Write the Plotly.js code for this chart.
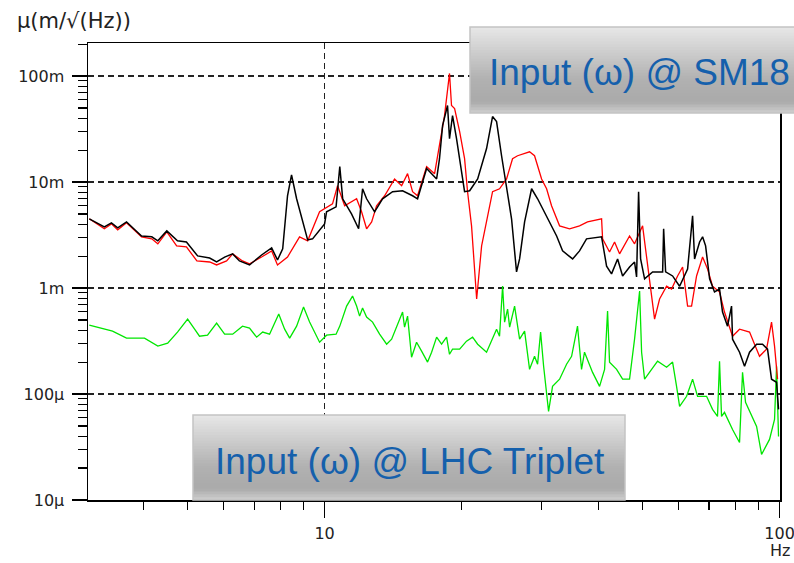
<!DOCTYPE html>
<html>
<head>
<meta charset="utf-8">
<script src="https://cdn.plot.ly/plotly-3.0.1.min.js"></script>
<style>html,body{margin:0;padding:0;background:#fff;}#chart{width:794px;height:563px;}</style>
</head>
<body>
<div id="chart"></div>
<script>
// Frequency (Hz) and amplitude (m/sqrt(Hz))
const blackFreq = [3.04,3.28,3.40,3.51,3.67,3.96,4.17,4.30,4.50,4.75,4.97,5.26,5.59,5.79,6.03,6.28,6.50,6.84,7.27,7.65,7.88,8.09,8.29,8.46,8.68,9.18,9.41,10.0,10.1,10.6,10.8,10.96,11.46,11.88,12.12,12.37,12.88,13.41,14.11,14.84,15.61,16.01,16.76,17.63,17.89,18.17,18.63,18.82,19.11,19.50,20.31,20.84,21.70,22.70,23.40,23.88,24.49,25.12,25.76,26.42,26.83,27.52,28.51,29.39,30.76,32.36,33.35,35.09,36.34,37.65,40.63,41.67,42.73,44.06,45.19,46.81,48.01,48.50,49.00,49.50,50.51,52.60,55.34,55.62,56.18,58.20,60.30,62.79,64.40,65.05,66.72,67.74,68.78,70.19,71.95,73.81,74.94,76.86,78.43,78.83,81.67,83.77,85.92,89.03,91.76,94.10,96.03,98.49,99.49];
const blackVal = [4.50e-3,3.78e-3,4.12e-3,3.69e-3,4.21e-3,3.10e-3,3.04e-3,2.79e-3,3.46e-3,2.79e-3,2.72e-3,2.01e-3,1.92e-3,1.76e-3,1.96e-3,2.10e-3,1.80e-3,1.65e-3,2.05e-3,2.39e-3,1.84e-3,2.34e-3,7.42e-3,1.17e-2,6.95e-3,2.84e-3,2.91e-3,4.03e-3,5.24e-3,5.84e-3,1.40e-2,6.95e-3,5.01e-3,3.62e-3,8.64e-3,6.95e-3,5.24e-3,6.95e-3,8.10e-3,8.27e-3,7.42e-3,6.95e-3,1.34e-2,1.07e-2,1.66e-2,3.41e-2,5.27e-2,2.57e-2,4.24e-2,2.57e-2,8.10e-3,8.27e-3,1.07e-2,2.07e-2,4.15e-2,3.72e-2,1.77e-2,9.23e-3,4.50e-3,1.42e-3,1.88e-3,4.21e-3,8.64e-3,6.95e-3,4.80e-3,3.10e-3,2.24e-3,1.88e-3,2.24e-3,2.91e-3,3.04e-3,1.61e-3,1.36e-3,1.88e-3,1.30e-3,1.58e-3,1.76e-3,1.27e-3,8.10e-3,1.88e-3,1.22e-3,1.42e-3,1.42e-3,3.62e-3,1.42e-3,1.30e-3,1.04e-3,1.51e-3,4.80e-3,1.88e-3,2.72e-3,3.04e-3,2.50e-3,1.22e-3,9.17e-4,9.78e-4,5.93e-4,4.37e-4,6.76e-4,3.29e-4,2.48e-4,1.83e-4,2.48e-4,2.95e-4,2.95e-4,2.65e-4,1.38e-4,1.29e-4,7.17e-5];

const redFreq = [3.04,3.28,3.40,3.51,3.67,3.96,4.17,4.30,4.50,4.73,4.97,5.24,5.59,5.79,6.09,6.28,6.60,6.84,7.27,7.65,7.88,8.29,8.81,9.18,9.75,10.41,10.68,11.07,11.76,12.06,12.37,12.69,13.01,13.55,14.25,14.77,15.22,15.61,16.01,16.76,17.45,17.89,18.35,18.82,19.01,19.31,19.81,20.31,20.62,21.04,21.59,22.14,22.70,23.40,24.24,25.12,25.89,26.56,28.22,28.94,29.99,30.76,31.54,32.85,34.56,36.34,37.84,38.82,40.63,40.84,42.30,43.39,44.50,46.81,48.01,50.00,51.03,51.81,53.13,54.49,56.46,57.90,59.69,61.22,62.79,64.07,65.71,67.74,69.47,71.24,73.81,75.68,78.83,81.67,85.92,89.03,90.36,93.63,96.03,97.50,98.99];
const redVal = [4.50e-3,3.62e-3,4.03e-3,3.54e-3,4.12e-3,3.04e-3,2.91e-3,2.61e-3,3.39e-3,2.50e-3,2.45e-3,1.80e-3,1.76e-3,1.65e-3,1.80e-3,2.10e-3,1.80e-3,1.69e-3,1.96e-3,2.24e-3,1.65e-3,1.96e-3,3.04e-3,2.79e-3,5.24e-3,6.23e-3,9.23e-3,5.97e-3,6.95e-3,5.24e-3,3.62e-3,4.21e-3,5.97e-3,7.42e-3,1.07e-2,9.23e-3,1.20e-2,8.10e-3,7.42e-3,1.40e-2,1.20e-2,2.20e-2,4.24e-2,1.058e-1,5.27e-2,4.94e-2,2.99e-2,1.66e-2,8.10e-3,3.86e-3,7.87e-4,2.50e-3,4.21e-3,8.10e-3,8.64e-3,1.07e-2,1.66e-2,1.77e-2,1.93e-2,1.77e-2,1.07e-2,8.64e-3,5.97e-3,3.86e-3,3.62e-3,3.86e-3,4.21e-3,4.30e-3,4.50e-3,2.91e-3,2.19e-3,2.72e-3,2.10e-3,3.10e-3,2.61e-3,3.86e-3,1.88e-3,1.22e-3,5.09e-4,7.87e-4,1.04e-3,9.78e-4,1.30e-3,1.58e-3,6.76e-4,6.76e-4,1.30e-3,1.96e-3,1.51e-3,1.04e-3,9.17e-4,5.93e-4,3.51e-4,4.09e-4,3.84e-4,2.65e-4,2.27e-4,2.65e-4,4.77e-4,2.83e-4,1.38e-4];

const greenFreq = [3.04,3.42,3.67,4.02,4.30,4.52,4.75,5.00,5.18,5.31,5.53,5.79,6.03,6.28,6.60,6.84,7.09,7.31,7.57,7.93,8.17,8.38,8.68,8.99,9.27,9.75,10.1,10.6,10.8,11.18,11.52,11.76,11.94,12.12,12.37,12.75,13.21,13.69,14.04,14.47,14.84,14.99,15.22,15.53,15.93,16.34,16.84,17.19,17.63,18.08,18.54,18.82,19.11,19.81,20.51,21.15,21.70,22.70,23.28,23.88,24.24,24.62,24.87,25.25,25.51,26.16,26.83,27.52,28.22,28.94,29.39,29.84,30.30,30.76,31.07,31.70,32.85,34.03,34.91,35.97,36.71,37.27,38.82,40.22,41.25,41.88,42.30,43.84,45.19,46.81,48.01,49.25,49.75,50.51,52.33,53.94,56.46,58.20,59.38,60.30,62.48,64.40,66.05,69.12,71.24,73.06,73.81,74.56,75.68,78.83,81.67,82.92,84.19,89.03,91.30,95.06,97.50,98.49,99.49];
const greenVal = [4.46e-4,3.92e-4,3.37e-4,3.37e-4,2.83e-4,3.02e-4,3.84e-4,5.09e-4,4.09e-4,3.51e-4,3.59e-4,4.67e-4,3.67e-4,3.67e-4,4.37e-4,4.18e-4,3.44e-4,3.84e-4,3.67e-4,5.68e-4,4.09e-4,3.37e-4,4.37e-4,6.61e-4,4.77e-4,3.08e-4,3.59e-4,3.67e-4,4.37e-4,6.76e-4,8.40e-4,6.76e-4,5.43e-4,6.47e-4,5.32e-4,4.77e-4,3.67e-4,2.95e-4,3.29e-4,4.56e-4,5.93e-4,4.28e-4,5.43e-4,2.22e-4,3.08e-4,2.54e-4,2.00e-4,2.48e-4,3.44e-4,2.95e-4,3.44e-4,2.37e-4,2.65e-4,2.65e-4,3.15e-4,3.44e-4,2.95e-4,2.48e-4,3.15e-4,4.09e-4,3.51e-4,1.045e-3,4.77e-4,6.33e-4,4.28e-4,6.76e-4,3.29e-4,3.92e-4,1.71e-4,2.27e-4,1.91e-4,3.84e-4,1.83e-4,9.51e-5,6.86e-5,1.18e-4,1.38e-4,1.91e-4,2.27e-4,4.37e-4,1.71e-4,2.48e-4,1.60e-4,1.18e-4,1.71e-4,6.06e-4,2.00e-4,1.71e-4,1.38e-4,1.38e-4,3.29e-4,9.37e-4,2.48e-4,1.38e-4,1.71e-4,2.04e-4,1.79e-4,2.00e-4,1.18e-4,7.65e-5,9.51e-5,1.38e-4,9.51e-5,9.51e-5,7.17e-5,6.15e-5,2.04e-4,6.15e-5,6.71e-5,4.63e-5,3.49e-5,1.60e-4,8.34e-5,4.95e-5,2.69e-5,3.73e-5,5.76e-5,1.83e-4,3.98e-5];

const yTickVals = [1e-5,1e-4,1e-3,1e-2,1e-1];
const yTickText = ['10µ','100µ','1m','10m','100m'];
const xTickVals = [10,100];
const xTickText = ['10','100'];
const boxLabels = ['Input (ω) @ SM18','Input (ω) @ LHC Triplet'];

const traces = [
  {x: greenFreq, y: greenVal, type:'scatter', mode:'lines', line:{color:'#00e600', width:1.3}, hoverinfo:'skip'},
  {x: redFreq, y: redVal, type:'scatter', mode:'lines', line:{color:'#ff0000', width:1.3}, hoverinfo:'skip'},
  {x: blackFreq, y: blackVal, type:'scatter', mode:'lines', line:{color:'#000000', width:1.5}, hoverinfo:'skip'}
];

// gradient boxes built from overlapping horizontal strips (paper coords)
function gradientBox(x0, x1, y0, y1) {
  const shapes = [];
  const n = 30;
  const h = (y1 - y0) / n;
  for (let i = 0; i < n; i++) {
    const t = i / (n - 1); // 0 top -> 1 bottom
    let c;
    if (t < 0.6) c = Math.round(230 - (230 - 178) * (t / 0.6));
    else if (t < 0.88) c = Math.round(178 - 8 * ((t - 0.6) / 0.28));
    else c = Math.round(170 + 32 * ((t - 0.88) / 0.12));
    const top = y1 - h * i;
    const bot = Math.max(y0, y1 - h * (i + 1) - h * 0.6);
    shapes.push({type:'rect', xref:'paper', yref:'paper', x0:x0, x1:x1, y0:bot, y1:top,
      fillcolor:'rgb('+c+','+c+','+c+')', line:{width:0}, layer:'above'});
  }
  shapes.push({type:'rect', xref:'paper', yref:'paper', x0:x0, x1:x1, y0:y0, y1:y1,
    fillcolor:'rgba(0,0,0,0)', line:{color:'#c4c4c4', width:1.5}, layer:'above'});
  return shapes;
}

const L = 88, R = 780, T = 43, B = 500, W = 794, H = 563;
const px = v => (v - L) / (R - L);
const py = v => (B - v) / (B - T);

const shapes = [].concat(
  gradientBox(px(470), px(802), py(113), py(27)),
  gradientBox(px(193), px(625), py(500), py(415))
);

const tickFont = {family:'DejaVu Sans, Verdana, sans-serif', size:16, color:'#222'};

const layout = {
  width: W, height: H,
  margin: {l:L, r:W-R, t:T, b:H-B},
  paper_bgcolor:'#fff', plot_bgcolor:'#fff',
  showlegend:false,
  xaxis: {
    type:'log', range:[Math.log10(3.02), 2.001],
    tickmode:'array', tickvals:xTickVals, ticktext:xTickText,
    ticks:'outside', ticklen:16, tickwidth:1.2, tickcolor:'#000',
    showline:true, linecolor:'#000', linewidth:1.5, mirror:true,
    showgrid:true, gridcolor:'#222', griddash:'6px,4px', gridwidth:1.3,
    zeroline:false, tickfont:tickFont, ticklabelstandoff:2, ticklabeloverflow:'allow',
    minor:{ticks:'outside', ticklen:8, tickwidth:1.2, tickcolor:'#000', dtick:'D1', showgrid:false}
  },
  yaxis: {
    type:'log', range:[-5, Math.log10(0.205)],
    tickmode:'array', tickvals:yTickVals, ticktext:yTickText,
    ticks:'outside', ticklen:15, tickwidth:1.2, tickcolor:'#000',
    showline:true, linecolor:'#000', linewidth:1.5, mirror:true,
    showgrid:true, gridcolor:'#222', griddash:'6px,4px', gridwidth:1.3,
    zeroline:false, tickfont:tickFont, ticklabelstandoff:4, ticklabeloverflow:'allow',
    minor:{ticks:'outside', ticklen:9, tickwidth:1.2, tickcolor:'#000', dtick:'D1', showgrid:false}
  },
  shapes: shapes,
  annotations: [
    {xref:'paper', yref:'paper', x:px(15), y:py(21), xanchor:'left', yanchor:'middle', showarrow:false,
     text:'µ(m/√(Hz))', font:{family:'DejaVu Sans, Verdana, sans-serif', size:21, color:'#222'}},
    {xref:'paper', yref:'paper', x:1, y:py(550), xanchor:'center', yanchor:'middle', showarrow:false,
     text:'Hz', font:{family:'DejaVu Sans, Verdana, sans-serif', size:16, color:'#222'}},
    {xref:'paper', yref:'paper', x:px(639), y:py(72), xanchor:'center', yanchor:'middle', showarrow:false,
     text:boxLabels[0], font:{family:'Liberation Sans, Arial, sans-serif', size:37, color:'#1560ac'}},
    {xref:'paper', yref:'paper', x:px(410), y:py(461), xanchor:'center', yanchor:'middle', showarrow:false,
     text:boxLabels[1], font:{family:'Liberation Sans, Arial, sans-serif', size:37, color:'#1560ac'}}
  ]
};

Plotly.newPlot('chart', traces, layout, {staticPlot:true, displayModeBar:false});
</script>
</body>
</html>
